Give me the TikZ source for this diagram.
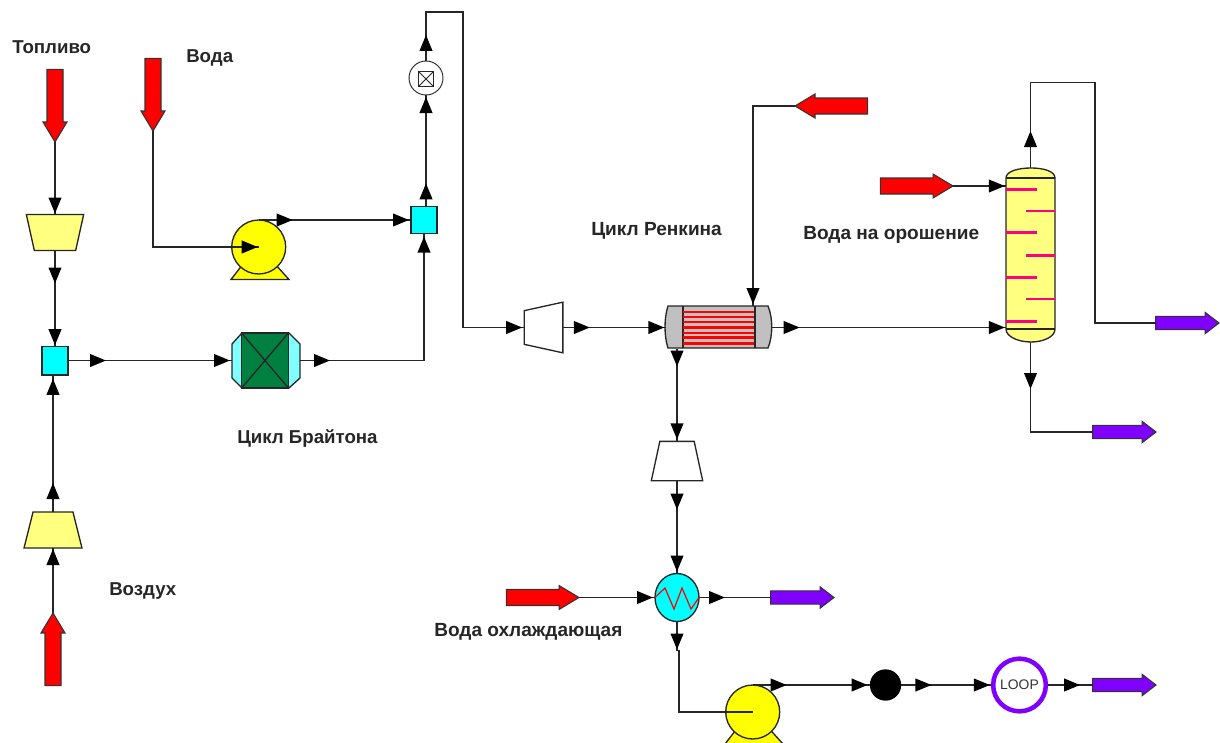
\documentclass[tikz,border=0pt]{standalone}
\usepackage{fontspec}
\setmainfont{Liberation Sans}
\usetikzlibrary{arrows.meta,calc,decorations.markings,shapes.arrows,shapes.geometric}
\definecolor{violet1}{HTML}{8000FF}
\definecolor{paleyellow}{HTML}{FFFF80}
\definecolor{palecyan}{HTML}{80FFFF}
\definecolor{puregreen}{HTML}{008040}
\definecolor{pinkline}{HTML}{FF0080}
\definecolor{shellgray}{HTML}{C0C0C0}
\definecolor{purecyan}{HTML}{00FFFF}
\definecolor{pureyellow}{HTML}{FFFF00}
\definecolor{purered}{HTML}{FF0000}
\tikzset{
  x=0.75pt,y=-0.75pt,
  flowtip/.tip={Triangle[length=12pt,width=9.5pt]},
  conn/.style={draw=black!85,line width=1.35pt,line join=miter},
  tipat/.style={postaction={decorate,decoration={markings,mark=at position #1*0.75pt with {\arrow[black]{flowtip}}}}},
  unit/.style={draw=black!85,line width=1pt,inner sep=0pt,outer sep=0pt},
  hole/.style={inner sep=0pt,outer sep=0pt},
  feedin/.style={single arrow,draw=black!80,line width=0.8pt,fill=purered,inner xsep=0pt,inner ysep=4.6pt,
    minimum height=54.5pt,minimum width=18pt,single arrow head extend=2.5pt,single arrow tip angle=62,outer sep=0pt},
  feedout/.style={single arrow,draw=black!80,line width=0.8pt,fill=violet1,inner xsep=0pt,inner ysep=3.8pt,
    minimum height=47.5pt,minimum width=16pt,single arrow head extend=2.5pt,single arrow tip angle=75,outer sep=0pt},
  lab/.style={font=\bfseries\fontsize{14}{16}\selectfont,text=black!85,inner sep=0pt,anchor=west},
  labwide/.style={font=\bfseries\fontsize{14.3}{16}\selectfont,text=black!85,inner sep=0pt,anchor=west},
  tray/.style={draw=pinkline,line width=2pt},
  tube/.style={draw=purered,line width=1.8pt},
}
\begin{document}
\begin{tikzpicture}
\useasboundingbox (0,0) rectangle (1220,742);
\clip (0,0) rectangle (1220,742);

% feeds
\node[feedin,rotate=-90,anchor=tip] (fuel) at (55,142) {};
\node[feedin,rotate=-90,anchor=tip] (water) at (153,131) {};
\node[feedin,rotate=90,anchor=tip] (air) at (53,613) {};
\node[feedin,rotate=180,anchor=tip] (reflux) at (795,106) {};
\node[feedin,anchor=tip] (irrig) at (953,186) {};
\node[feedin,anchor=tip] (coolw) at (579,597.5) {};
% products
\node[feedout,anchor=tip] (prodtop) at (1219,323) {};
\node[feedout,anchor=tip] (prodbot) at (1156,432) {};
\node[feedout,anchor=tip] (prodcool) at (834,597.5) {};
\node[feedout,anchor=tip] (prodloop) at (1156,685) {};

% compressors and turbines
\node[hole,minimum width=43pt,minimum height=27pt] (comp1) at (55,232.5) {};
\draw[unit,fill=paleyellow] (comp1.north west) -- (comp1.north east) -- ($(comp1.south east)+(-8,0)$) -- ($(comp1.south west)+(8,0)$) -- cycle;
\node[hole,minimum width=43.5pt,minimum height=27pt] (comp2) at (53,530) {};
\draw[unit,fill=paleyellow] (comp2.south west) -- (comp2.south east) -- ($(comp2.north east)+(-9,0)$) -- ($(comp2.north west)+(9,0)$) -- cycle;
\node[hole,minimum width=29pt,minimum height=38pt] (turb1) at (543.5,327.5) {};
\draw[unit,fill=white] (turb1.north east) -- (turb1.south east) -- ($(turb1.south west)+(0,-8.5)$) -- ($(turb1.north west)+(0,8.5)$) -- cycle;
\node[hole,minimum width=38.5pt,minimum height=29.5pt] (turb2) at (677,461) {};
\draw[unit,fill=white] (turb2.south west) -- (turb2.south east) -- ($(turb2.north east)+(-8.5,0)$) -- ($(turb2.north west)+(8.5,0)$) -- cycle;

% mixers
\node[unit,fill=purecyan,minimum width=19.5pt,minimum height=21.5pt] (mix1) at (55,360.5) {};
\node[unit,fill=purecyan,minimum width=19.5pt,minimum height=20.5pt] (mix2) at (424,220) {};

% pumps
\draw[unit,fill=pureyellow] (231,279.5) -- (243,264) -- (275,264) -- (289,279.5) -- cycle;
\node[unit,circle,fill=pureyellow,minimum size=40.5pt] (pump1) at (258.7,247) {};
\draw[unit,fill=pureyellow] (725,744) -- (737,728.5) -- (769,728.5) -- (783,744) -- cycle;
\node[unit,circle,fill=pureyellow,minimum size=40.5pt] (pump2) at (752.7,712) {};

% HRSG
\draw[unit,fill=palecyan] (242,333) -- (232,344) -- (232,378) -- (242,388) -- (289,388) -- (300,378) -- (300,344) -- (289,333) -- cycle;
\node[hole,minimum width=51pt,minimum height=41.2pt] (hrsg) at (266,360.5) {};
\node[unit,fill=puregreen,minimum width=35pt,minimum height=41.2pt] (hrsgcore) at (265,360.5) {};
\draw[unit] (hrsgcore.north west) -- (hrsgcore.south east) (hrsgcore.north east) -- (hrsgcore.south west);

% valve
\node[unit,circle,fill=white,line width=0.7pt,minimum size=25.5pt] (valve) at (426,78) {};
\node[unit,minimum size=11.5pt] (valvebox) at (426,79) {};
\draw[unit,line width=0.6pt] (valvebox.north west) -- (valvebox.south east) (valvebox.north east) -- (valvebox.south west);

% shell and tube exchanger
\draw[unit,fill=shellgray] (668,306) .. controls (664,318) and (664,336) .. (668,348) -- (768,348) .. controls (773,336) and (773,318) .. (768,306) -- cycle;
\node[hole,minimum width=79pt,minimum height=31.5pt] (hx) at (719,327.5) {};
\coordinate (hxtop) at (753,306);
\draw[unit,line width=1.1pt] (683,306) -- (683,348) (755,306) -- (755,348);
\foreach \ty in {312,317,322,327.5,333,337.5,343.5} \draw[tube] (683,\ty) -- (754,\ty);

% column
\draw[unit,fill=paleyellow] (1006,178) .. controls (1006,171) and (1019,168) .. (1031,168) .. controls (1043,168) and (1055,171) .. (1055,178) -- (1055,329) .. controls (1055,337) and (1043,342) .. (1031,342) .. controls (1019,342) and (1006,337) .. (1006,329) -- cycle;
\draw[unit] (1006,178) -- (1055,178) (1006,329) -- (1055,329);
\node[hole,minimum width=37pt,minimum height=130.5pt] (column) at (1030.5,255) {};
\foreach \ty in {189.5,232.5,277.5,321.5} \draw[tray] (1006,\ty) -- (1037,\ty);
\foreach \ty in {211,255.5,299} \draw[tray] (1026,\ty) -- (1055,\ty);

% cooler
\node[unit,ellipse,fill=purecyan,minimum width=33pt,minimum height=36pt] (cooler) at (677,597.5) {};
\draw[draw=purered,line width=0.9pt] (cooler.west) -- (665,588) -- (674,609) -- (682,588) -- (691,609) -- (cooler.east);

% drum and loop
\node[circle,fill=black,inner sep=0pt,minimum size=23.5pt] (drum) at (885.5,685) {};
\node[circle,draw=violet1,line width=3.4pt,fill=white,inner sep=0pt,minimum size=39.5pt,font=\fontsize{10.4}{12}\selectfont,text=black!80] (loop) at (1019.5,685) {LOOP};

% connectors
\draw[conn,tipat=-1] (fuel.tip) -- (comp1.north);
\draw[conn,tipat=33,tipat=-1] (comp1.south) -- (mix1.north);
\draw[conn,tipat=-1] (air.tip) -- (comp2.south);
\draw[conn,tipat=29,tipat=-4] (comp2.north) -- (comp2.north |- mix1.south);
\draw[conn,tipat=38,tipat=-2] (mix1.east) -- (hrsg.west);
\draw[conn,tipat=30,tipat=-3] (hrsg.east) -| (mix2.south);
\draw[conn,tipat=-1] (water.tip) |- (pump1.center);
\draw[conn,tipat=34,tipat=-2] (pump1.north) -- (mix2.west);
\draw[conn,tipat=23,tipat=-2] (valve.south |- mix2.north) -- (valve.south);
\draw[conn,tipat=26,tipat=-2] (valve.north) -- ++(0,-49) -- ++(37,0) |- (turb1.west);
\draw[conn,tipat=27,tipat=-2] (turb1.east) -- (hx.west);
\draw[conn,tipat=28,tipat=-1] (hx.east) -- (hx.east -| column.west);
\draw[conn,tipat=-2] (reflux.tip) -| (hxtop);
\draw[conn,tipat=-1] (irrig.tip) -- (irrig.tip -| column.west);
\draw[conn,tipat=37] (column.north) -- ++(0,-85.5) -- ++(64.5,0) |- (prodtop.tail);
\draw[conn,tipat=47] (column.south) |- (prodbot.tail);
\draw[conn,tipat=18,tipat=-2] (turb2.north |- hx.south) -- (turb2.north);
\draw[conn,tipat=29,tipat=-2] (turb2.south) -- (cooler.north);
\draw[conn,tipat=-2] (coolw.tip) -- (cooler.west);
\draw[conn,tipat=26] (cooler.east) -- (prodcool.tail);
\draw[conn,tipat=28] (cooler.south) -- ++(0,29) -- ++(2,0) |- (pump2.center);
\draw[conn,tipat=34,tipat=-2] (pump2.north) -- (drum.west);
\draw[conn,tipat=30,tipat=-1] (drum.east) -- (loop.west);
\draw[conn,tipat=32] (loop.east) -- (prodloop.tail);

% labels
\node[lab] (l1) at (12,47) {Топливо};
\node[lab] (l2) at (186,58) {Вода};
\node[labwide] (l3) at (591,230.5) {Цикл Ренкина};
\node[labwide] (l4) at (803,234.5) {Вода на орошение};
\node[lab] (l5) at (237,438) {Цикл Брайтона};
\node[lab] (l6) at (109,591.5) {Воздух};
\node[labwide] (l7) at (434,631.5) {Вода охлаждающая};
\end{tikzpicture}
\end{document}
